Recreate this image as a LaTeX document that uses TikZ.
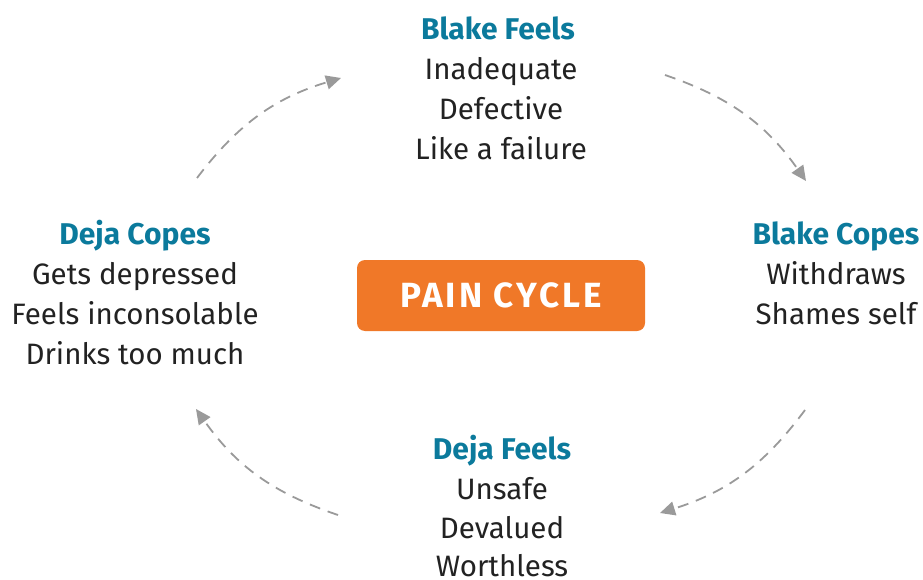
\documentclass[tikz,border=0pt]{standalone}
\usepackage{fontspec}
\setmainfont{Fira Sans}
\usetikzlibrary{arrows.meta}
\definecolor{tealblue}{HTML}{0B7A9C}
\definecolor{painorange}{HTML}{F07828}
\definecolor{arrowgray}{HTML}{9A9A9A}
\definecolor{bodytext}{HTML}{222222}
\tikzset{
  title/.style={font=\fontsize{30}{34}\selectfont\bfseries, text=tealblue, anchor=base, inner sep=0pt},
  body/.style={font=\fontsize{29.5}{34}\selectfont, text=bodytext, anchor=base, inner sep=0pt},
  cyclearrow/.style={draw=arrowgray, line width=1.8pt, dash pattern=on 11pt off 8pt, -{Triangle[length=15pt,width=14pt]}, bend left=18},
  centerbox/.style={fill=painorange, rounded corners=8pt, minimum width=288pt, minimum height=71pt, text=white, font=\fontsize{35}{38}\selectfont\bfseries\addfontfeature{LetterSpace=9}, inner sep=0pt}
}
\begin{document}
\begin{tikzpicture}[x=1pt,y=-1pt]
\useasboundingbox (0,0) rectangle (923,580);
% top
\node[title] (bft) at (498,40) {Blake Feels};
\node[body] (bf1) at (501,80) {Inadequate};
\node[body] (bf2) at (501,120) {Defective};
\node[body] (bf3) at (501,160) {Like a failure};
% right
\node[title] (bct) at (836,244) {Blake Copes};
\node[body] (bc1) at (836,284) {Withdraws};
\node[body] (bc2) at (836,324) {Shames self};
% left
\node[title] (dct) at (135,244) {Deja Copes};
\node[body] (dc1) at (135,284) {Gets depressed};
\node[body] (dc2) at (135,324) {Feels inconsolable};
\node[body] (dc3) at (135,364) {Drinks too much};
% bottom
\node[title] (dft) at (502,459) {Deja Feels};
\node[body] (df1) at (502,499) {Unsafe};
\node[body] (df2) at (502,538) {Devalued};
\node[body] (df3) at (502,576) {Worthless};
% center
\node[centerbox] (pc) at (501,295.5) {PAIN CYCLE};
% arrows
\coordinate (a1s) at (197,178);
\coordinate (a1e) at (341,78);
\coordinate (a2s) at (665,75);
\coordinate (a2e) at (806,181);
\coordinate (a3s) at (805,410);
\coordinate (a3e) at (660,513);
\coordinate (a4s) at (338,515);
\coordinate (a4e) at (196,409);
\draw[cyclearrow] (a1s) to (a1e);
\draw[cyclearrow] (a2s) to (a2e);
\draw[cyclearrow] (a3s) to (a3e);
\draw[cyclearrow] (a4s) to (a4e);
\end{tikzpicture}
\end{document}
